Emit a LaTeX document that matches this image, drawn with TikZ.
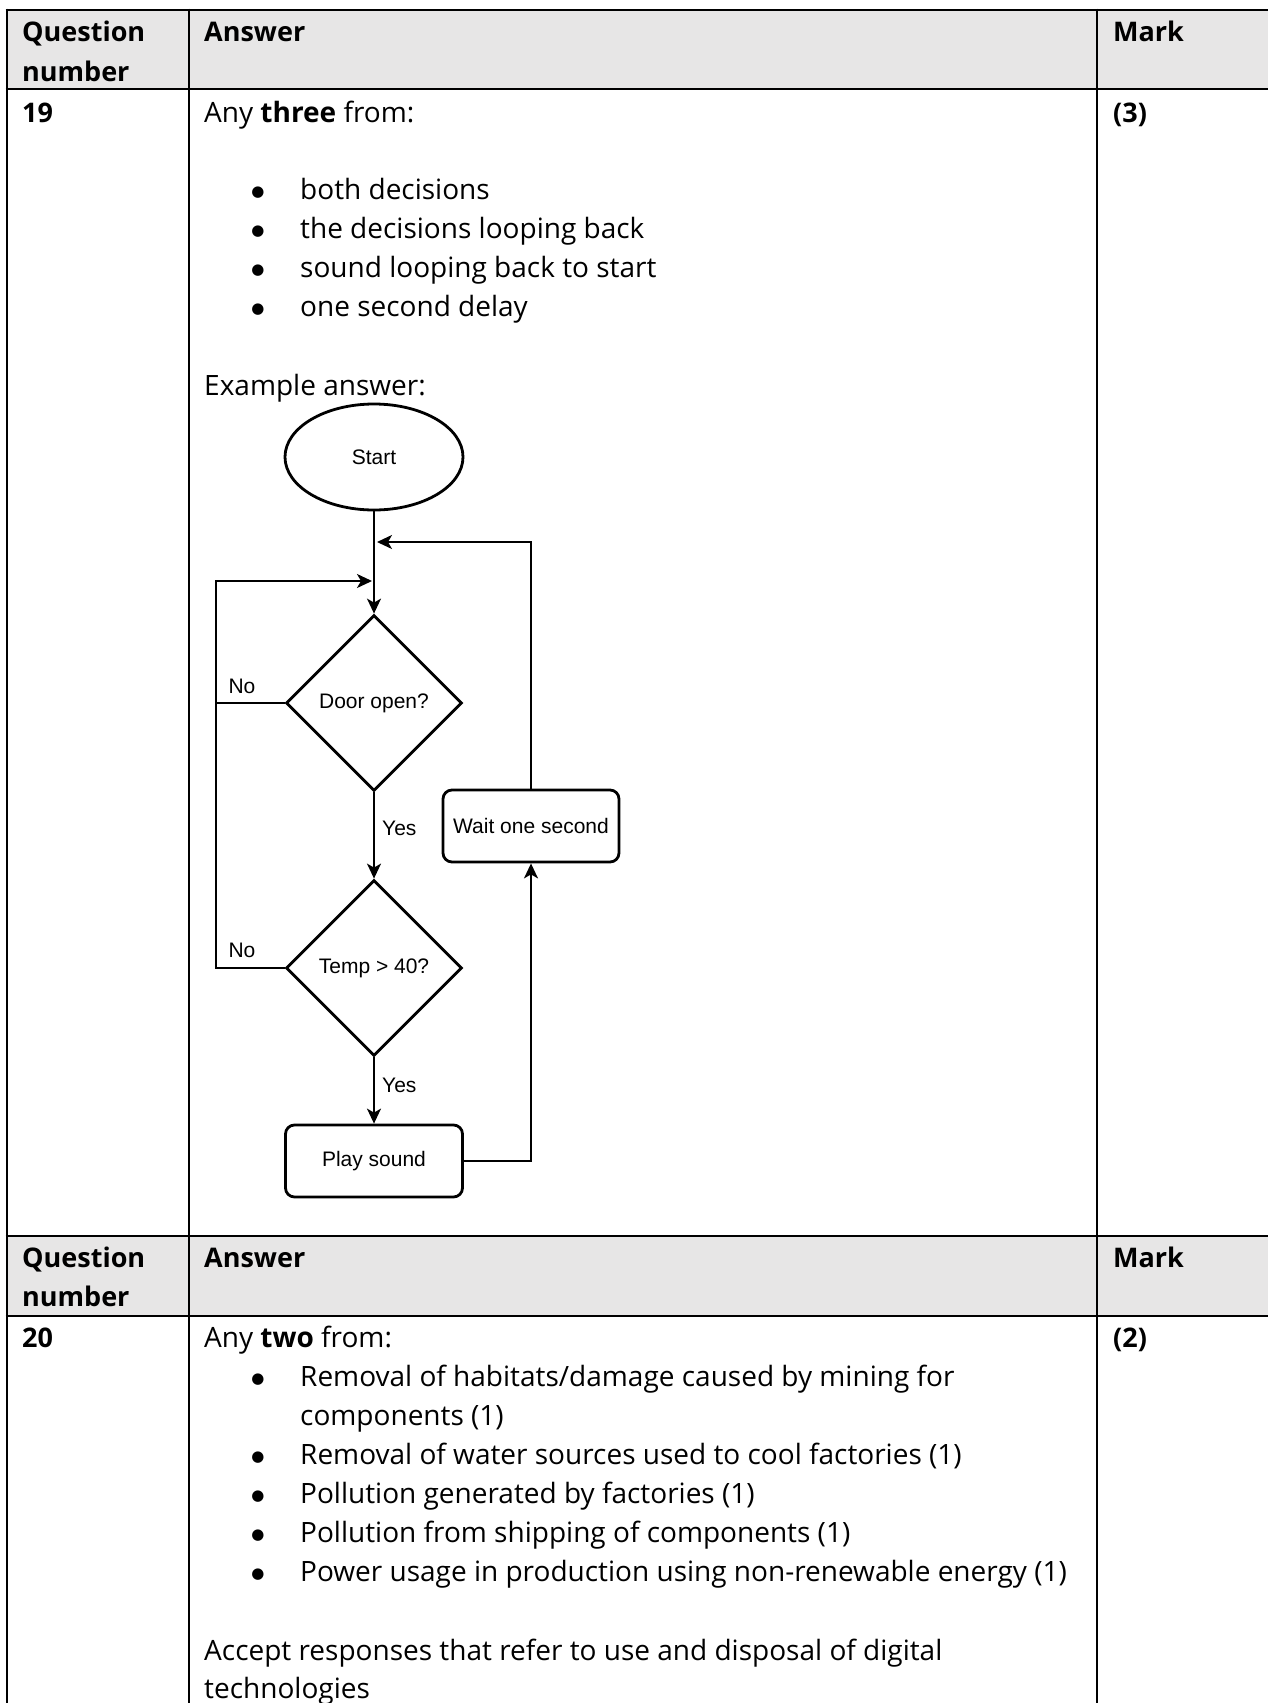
\documentclass[tikz,border=0pt]{standalone}
\usepackage{fontspec}
\setmainfont{Open Sans}
\newfontfamily\chartfont{Liberation Sans}
\newfontfamily\dotfont{DejaVu Sans}
\usetikzlibrary{shapes.geometric,arrows.meta}
\definecolor{hdrGray}{RGB}{231,230,230}
\begin{document}
\begin{tikzpicture}[x=1pt, y=-1pt,
    cellText/.style={anchor=base west, inner sep=0pt, font=\fontsize{28}{39}\selectfont},
    headText/.style={cellText, font=\fontsize{27}{39}\selectfont\bfseries},
    bulletStyle/.style={anchor=center, inner sep=0pt, font=\dotfont\fontsize{15}{15}\selectfont},
    tableLine/.style={line width=2.8pt},
    terminalStyle/.style={ellipse, draw, line width=2.8pt, minimum width=178pt, minimum height=106pt, inner sep=0pt, font=\chartfont\fontsize{21}{25}\selectfont},
    decisionStyle/.style={diamond, draw, line width=2.8pt, minimum width=176pt, minimum height=176pt, inner sep=0pt, font=\chartfont\fontsize{21}{25}\selectfont},
    processStyle/.style={rectangle, rounded corners=9pt, draw, line width=2.8pt, minimum width=177pt, minimum height=72pt, inner sep=0pt, font=\chartfont\fontsize{21}{25}\selectfont},
    labelStyle/.style={inner sep=0pt, font=\chartfont\fontsize{21}{25}\selectfont},
    flowArrow/.style={line width=1.8pt, -{Stealth[length=15pt, width=14pt, inset=4pt]}},
    flowLine/.style={line width=1.8pt}]
    \useasboundingbox (0,0) rectangle (1268,1703);

    % table
    \fill[hdrGray] (7,10) rectangle (1268,89);
    \fill[hdrGray] (7,1236) rectangle (1268,1316);
    \foreach \y in {10, 89, 1236, 1316}
        \draw[tableLine] (5.6,\y) -- (1268,\y);
    \foreach \x in {7, 189, 1097}
        \draw[tableLine] (\x,8.6) -- (\x,1703);

    % header rows
    \node[headText](hdrQa) at (22, 41) {Question};
    \node[headText](hdrQb) at (22, 81) {number};
    \node[headText](hdrAns) at (204, 41) {Answer};
    \node[headText](hdrMark) at (1113, 41) {Mark};
    \node[headText](hdrQc) at (22, 1267) {Question};
    \node[headText](hdrQd) at (22, 1306) {number};
    \node[headText](hdrAns2) at (204, 1267) {Answer};
    \node[headText](hdrMark2) at (1113, 1267) {Mark};

    % question 19
    \node[headText](num19) at (22, 122) {19};
    \node[headText](mark19) at (1113, 122) {(3)};
    \node[cellText](intro19) at (204, 122) {Any \textbf{three} from:};
    \foreach \yy/\txt [count=\i] in {199/{both decisions}, 238/{the decisions looping back},
        277/{sound looping back to start}, 316/{one second delay}} {
        \node[bulletStyle](dotA\i) at (258, \yy-6.5) {●};
        \node[cellText](itemA\i) at (300, \yy) {\txt};
    }
    \node[cellText](example19) at (204, 395) {Example answer:};

    % flowchart
    \node[terminalStyle](start) at (374, 457) {Start};
    \node[decisionStyle](door) at (374, 703) {Door open?};
    \node[decisionStyle](temp) at (374, 968) {Temp > 40?};
    \node[processStyle](play) at (374, 1161) {Play sound};
    \node[processStyle, minimum width=176pt](wait) at (531, 826) {Wait one second};
    \coordinate (waitIn) at (377, 542);
    \coordinate (noIn) at (372, 581);

    \draw[flowArrow] (start) -- (door);
    \draw[flowArrow] (wait.north) |- (waitIn);
    \draw[flowArrow] (door.west) -- (216, 703) |- (noIn);
    \draw[flowLine] (temp.west) -- (216, 968) -- (216, 703);
    \draw[flowArrow] (door) -- (temp);
    \draw[flowArrow] (temp) -- (play);
    \draw[flowArrow] (play.east) -| (wait.south);

    \node[labelStyle, anchor=base](noA) at (242, 693) {No};
    \node[labelStyle, anchor=base](noB) at (242, 957) {No};
    \node[labelStyle, anchor=base west](yesA) at (382, 835) {Yes};
    \node[labelStyle, anchor=base west](yesB) at (382, 1092) {Yes};

    % question 20
    \node[headText](num20) at (22, 1347) {20};
    \node[headText](mark20) at (1113, 1347) {(2)};
    \node[cellText](intro20) at (204, 1347) {Any \textbf{two} from:};
    \foreach \yy/\txt [count=\i] in {1386/{Removal of habitats/damage caused by mining for},
        1464/{Removal of water sources used to cool factories (1)},
        1503/{Pollution generated by factories (1)},
        1542/{Pollution from shipping of components (1)},
        1581/{Power usage in production using non-renewable energy (1)}} {
        \node[bulletStyle](dotB\i) at (258, \yy-6.5) {●};
        \node[cellText](itemB\i) at (300, \yy) {\txt};
    }
    \node[cellText](itemB1b) at (300, 1425) {components (1)};
    \node[cellText](accept20) at (204, 1660) {Accept responses that refer to use and disposal of digital};
    \node[cellText](accept20b) at (204, 1698) {technologies};
\end{tikzpicture}
\end{document}
